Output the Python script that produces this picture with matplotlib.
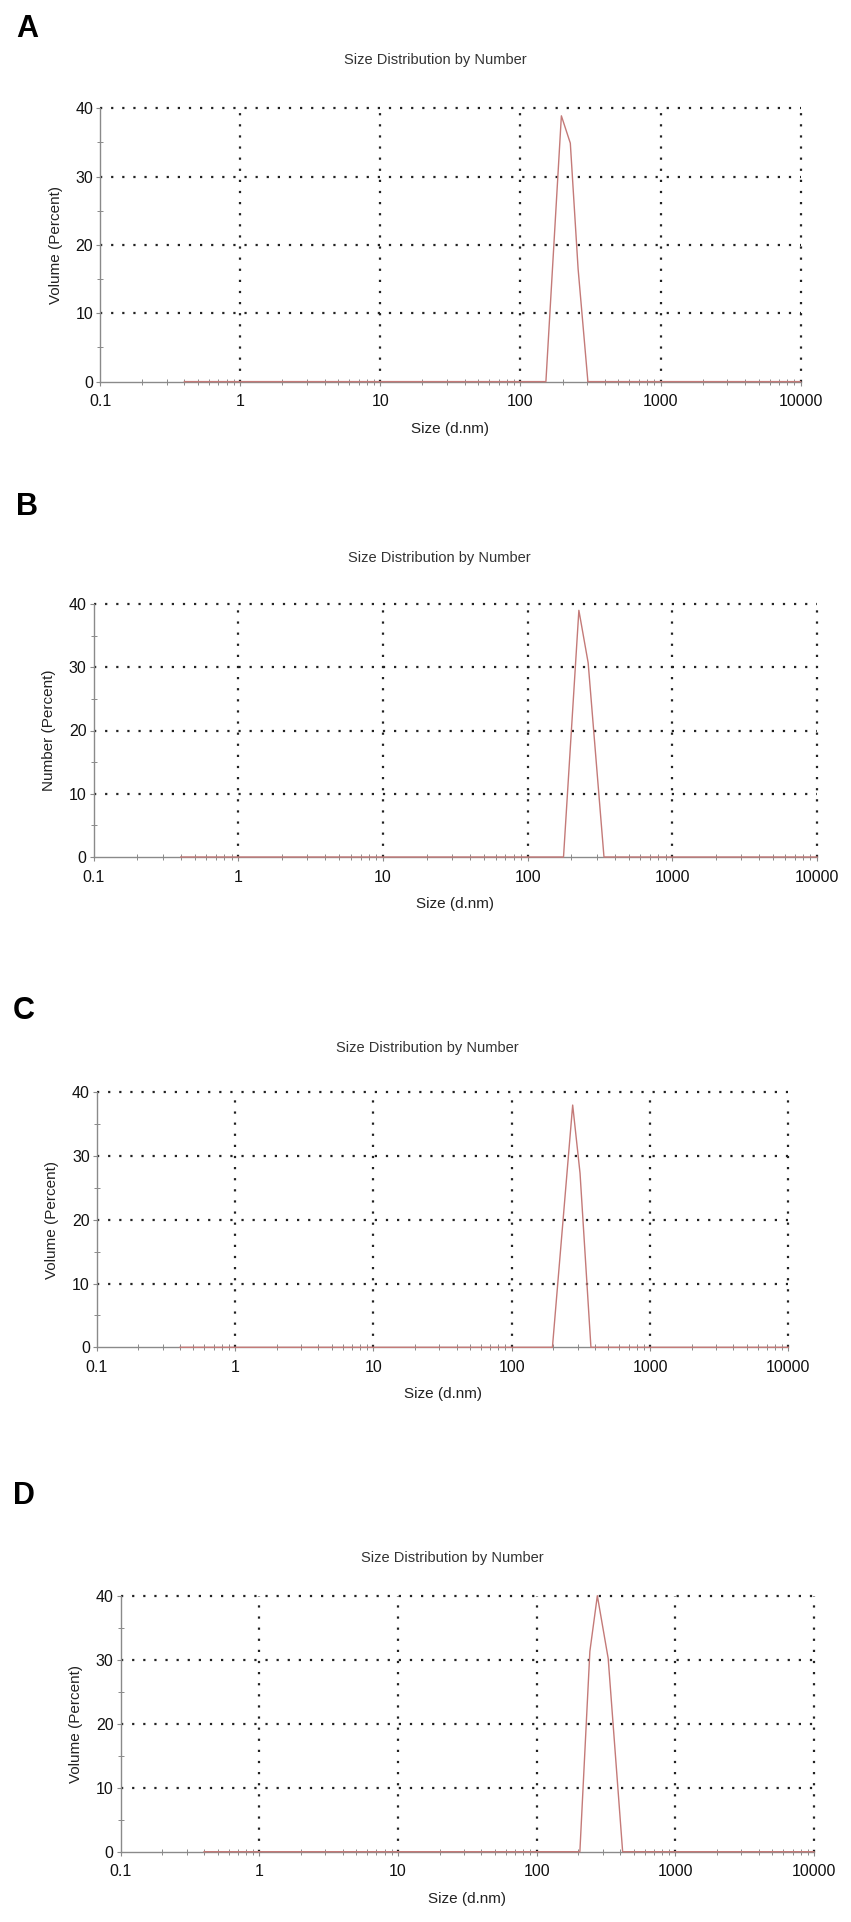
import matplotlib
matplotlib.use('Agg')
import matplotlib.pyplot as plt
from matplotlib.ticker import FixedLocator, NullFormatter

plt.rcParams['font.family'] = ['Liberation Sans', 'DejaVu Sans']

# values (size in d.nm, percent)
sizes_a = [0.4, 152, 196, 227, 258, 303, 10000]
values_a = [0, 0, 38.9, 34.9, 16.5, 0, 0]

sizes_b = [0.4, 177, 226, 262, 337, 10000]
values_b = [0, 0, 39.0, 30.7, 0, 0]

sizes_c = [0.4, 197, 276, 312, 374, 10000]
values_c = [0, 0, 38.0, 27.3, 0, 0]

sizes_d = [0.4, 205, 242, 274, 328, 417, 10000]
values_d = [0, 0, 31.3, 40.0, 30.2, 0, 0]

panel_letters = ['A', 'B', 'C', 'D']
y_labels = ['Volume (Percent)', 'Number (Percent)', 'Volume (Percent)', 'Volume (Percent)']
title = 'Size Distribution by Number'
x_ticks = [0.1, 1, 10, 100, 1000, 10000]
x_tick_labels = ['0.1', '1', '10', '100', '1000', '10000']
y_ticks = [0, 10, 20, 30, 40]

W, H = 851, 1922
fig = plt.figure(figsize=(W / 100, H / 100), dpi=100)

# axes boxes in pixels: left, right, top, bottom
boxes = [(100, 800.7, 108.3, 381.6),
         (93.6, 817, 604, 857),
         (96.8, 788.3, 1092.3, 1347.3),
         (120.6, 814, 1595.7, 1851.7)]
title_pads = [32, 30, 29, 24]
letter_pos = [(27, 29), (27, 507), (24, 1011), (24, 1496)]

series = [(sizes_a, values_a), (sizes_b, values_b), (sizes_c, values_c), (sizes_d, values_d)]

line_color = '#c47a78'
axis_color = '#8a8a8a'

for i, (sx, sy) in enumerate(series):
    l, r, t, b = boxes[i]
    ax = fig.add_axes([l / W, 1 - b / H, (r - l) / W, (b - t) / H])
    ax.plot(sx, sy, color=line_color, lw=1.0, clip_on=False, zorder=5)
    ax.set_xscale('log')
    ax.set_xlim(0.1, 10000)
    ax.set_ylim(0, 40)

    ax.xaxis.set_major_locator(FixedLocator(x_ticks))
    ax.set_xticklabels(x_tick_labels)
    minors = [m * 10 ** e for e in range(-1, 4) for m in range(2, 10)]
    ax.xaxis.set_minor_locator(FixedLocator(minors))
    ax.xaxis.set_minor_formatter(NullFormatter())
    ax.set_yticks(y_ticks)
    ax.yaxis.set_minor_locator(FixedLocator([5, 15, 25, 35]))

    ax.tick_params(axis='both', which='major', direction='out', length=3,
                   width=0.8, color=axis_color, labelsize=11.5, labelcolor='#111111')
    ax.tick_params(axis='x', which='major', pad=6)
    ax.tick_params(axis='y', which='major', pad=2)
    ax.tick_params(axis='both', which='minor', direction='inout', length=5,
                   width=0.7, color=axis_color)

    ax.grid(True, which='major', color='#222222', linestyle=(0, (1, 4)), lw=1.6)
    for gl in ax.get_xgridlines() + ax.get_ygridlines():
        gl.set_clip_on(False)
    # no dotted line over the solid left and bottom axes
    ax.xaxis.get_major_ticks()[0].gridline.set_visible(False)
    ax.yaxis.get_major_ticks()[0].gridline.set_visible(False)
    ax.set_axisbelow(True)
    for side in ['top', 'right']:
        ax.spines[side].set_visible(False)
    for side in ['left', 'bottom']:
        ax.spines[side].set_color(axis_color)
        ax.spines[side].set_linewidth(1.0)

    ax.text(0.478, 1 + title_pads[i] / 72 / ((b - t) / 100), title,
            transform=ax.transAxes, ha='center', va='baseline',
            fontsize=10.5, color='#333333')
    ax.set_xlabel('Size (d.nm)', fontsize=11, color='#222222', labelpad=9)
    ax.set_ylabel(y_labels[i], fontsize=11, color='#222222', labelpad=9)

    lx, ly = letter_pos[i]
    fig.text(lx / W, 1 - ly / H, panel_letters[i], fontsize=22, fontweight='bold',
             ha='center', va='center')

fig.savefig('out.png', dpi=100)
